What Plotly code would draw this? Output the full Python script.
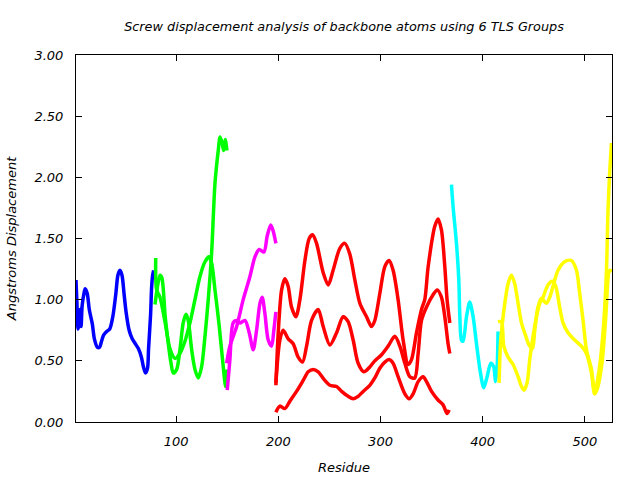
import plotly.graph_objects as go

# ---- data (residue, screw displacement in Angstroms) ----
blue_x = [2, 3, 4, 5, 6, 7, 8, 10, 11, 13, 15, 18, 20, 23, 25, 27, 29, 32, 35, 38, 41, 43, 45, 47, 49, 51, 54, 57, 60, 63, 66, 68, 70, 72, 73, 75, 76, 77, 78]
blue_y = [1.16, 0.95, 0.76, 0.80, 0.92, 0.78, 0.95, 1.06, 1.09, 1.05, 0.92, 0.80, 0.68, 0.61, 0.61, 0.66, 0.71, 0.74, 0.76, 0.86, 1.05, 1.20, 1.24, 1.20, 1.05, 0.90, 0.75, 0.68, 0.64, 0.60, 0.53, 0.45, 0.40, 0.44, 0.60, 0.88, 1.10, 1.20, 1.24]

green1_x = [79.3, 82, 84.2, 86, 89.3, 92.3, 95, 97.2, 100.5, 103.7, 106.9, 109.6, 111.8, 115.2, 118.4, 121.6, 124.9, 128.2, 131.4, 134.7, 138.0, 141.2, 143, 145, 146.5, 148, 149.7]
green1_y = [0.96, 1.12, 1.20, 1.18, 0.86, 0.64, 0.48, 0.40, 0.43, 0.59, 0.81, 0.88, 0.83, 0.59, 0.43, 0.36, 0.45, 0.70, 1.00, 1.38, 1.95, 2.22, 2.33, 2.28, 2.22, 2.31, 2.22]
green2_x = [80.0, 80.9, 84.2, 89.3, 93.9, 98.8, 103.7, 108.6, 113.5, 118.4, 123.3, 128.2, 132.1, 134.7, 138.0, 142.2, 146.1, 148.4, 149.4]
green2_y = [1.34, 1.08, 1.02, 0.81, 0.60, 0.52, 0.56, 0.66, 0.81, 1.00, 1.19, 1.31, 1.35, 1.30, 1.08, 0.78, 0.45, 0.29, 0.43]

magenta1_x = [150.0, 152.6, 155.8, 159.2, 162.4, 167.3, 171.5, 175.4, 178.7, 182.0, 184.2, 186.8, 190.1, 193.4, 195.6, 197.6]
magenta1_y = [0.26, 0.51, 0.81, 0.83, 0.81, 0.83, 0.73, 0.59, 0.75, 0.97, 1.02, 0.89, 0.67, 0.62, 0.75, 0.90]
magenta2_x = [149.4, 152.6, 159.2, 165.6, 172.2, 177.1, 181.3, 185.9, 189.1, 192.5, 195.0, 197.6]
magenta2_y = [0.48, 0.62, 0.78, 1.00, 1.19, 1.35, 1.41, 1.39, 1.52, 1.61, 1.56, 1.46]

red1_x = [197.6, 199.9, 203.2, 206.4, 209.6, 212.9, 217.2, 221.1, 226.0, 230.2, 233.5, 237.4, 243.9, 248.8, 253.6, 260.2, 265.1, 270.0, 274.9, 279.8, 286.3, 291.2, 294.4, 299.3, 304.2, 308.4, 312.3, 317.2, 322.1, 327.0, 330.3, 335.2, 340.1, 343.3, 346.6, 353.1, 356.3, 359.6, 362.9, 365.1, 367.8]
red1_y = [0.30, 0.73, 1.08, 1.17, 1.11, 0.94, 0.86, 1.00, 1.32, 1.50, 1.53, 1.46, 1.22, 1.12, 1.24, 1.42, 1.46, 1.37, 1.16, 0.97, 0.86, 0.78, 0.83, 1.05, 1.27, 1.32, 1.24, 1.00, 0.67, 0.47, 0.51, 0.73, 0.92, 1.00, 1.27, 1.60, 1.66, 1.57, 1.27, 1.00, 0.81]
red2_x = [197.6, 201.5, 204.7, 209.6, 214.5, 219.4, 223.7, 227.6, 232.5, 239.0, 243.9, 250.4, 257.0, 263.4, 268.3, 273.2, 278.1, 283.7, 289.5, 294.4, 301.0, 307.4, 314.0, 318.9, 323.8, 328.7, 333.5, 336.8, 340.1, 345.0, 351.4, 355.4, 359.6, 362.9, 366.1, 367.8]
red2_y = [0.32, 0.67, 0.75, 0.68, 0.64, 0.53, 0.49, 0.62, 0.83, 0.92, 0.78, 0.63, 0.73, 0.86, 0.82, 0.67, 0.48, 0.41, 0.45, 0.50, 0.55, 0.62, 0.70, 0.62, 0.48, 0.37, 0.36, 0.56, 0.83, 0.94, 1.04, 1.08, 1.02, 0.86, 0.64, 0.56]
red3_x = [197.6, 201.5, 206.4, 211.3, 217.8, 224.3, 229.2, 234.1, 239.0, 245.5, 250.4, 257.0, 261.9, 268.3, 273.2, 278.1, 283.0, 289.5, 294.4, 299.3, 304.2, 308.4, 312.3, 317.2, 323.8, 328.0, 331.9, 336.8, 341.7, 345.0, 349.9, 356.3, 361.2, 365.1, 367.1]
red3_y = [0.08, 0.13, 0.11, 0.17, 0.25, 0.34, 0.41, 0.43, 0.41, 0.34, 0.30, 0.29, 0.25, 0.21, 0.19, 0.21, 0.25, 0.30, 0.36, 0.44, 0.49, 0.51, 0.48, 0.37, 0.23, 0.19, 0.23, 0.33, 0.37, 0.33, 0.25, 0.18, 0.14, 0.07, 0.10]

cyan_x = [369.4, 371.0, 374.3, 376.6, 377.6, 379.2, 380.8, 384.1, 387.3, 390.6, 393.9, 397.8, 401.0, 404.3, 407.9, 410.8, 412.5, 414.0, 415.0]
cyan_y = [1.94, 1.76, 1.46, 1.16, 0.86, 0.67, 0.66, 0.86, 0.98, 0.86, 0.64, 0.40, 0.28, 0.37, 0.48, 0.45, 0.33, 0.43, 0.74]

yellow1_x = [416.0, 417.4, 419.3, 421.6, 424.8, 428.1, 431.3, 434.6, 437.9, 441.8, 445.3, 448.7, 450.9, 454.1, 457.4, 462.3, 465.6, 468.8, 473.7, 480.2, 486.8, 491.7, 494.9, 498.2, 501.5, 506.4, 509.6, 511.9, 515.2, 518.4, 521.1, 522.6, 524.3, 525.9]
yellow1_y = [0.32, 0.64, 0.81, 0.97, 1.13, 1.20, 1.13, 0.97, 0.81, 0.71, 0.63, 0.60, 0.75, 0.94, 1.01, 0.97, 1.02, 1.11, 1.24, 1.31, 1.32, 1.24, 1.05, 0.83, 0.59, 0.43, 0.23, 0.32, 0.51, 0.81, 1.24, 1.73, 2.05, 2.28]
yellow2_x = [415.0, 418.3, 420.6, 424.8, 429.7, 434.6, 437.9, 440.4, 443.4, 446.0, 449.2, 452.6, 455.8, 459.0, 463.9, 468.2, 471.4, 475.3, 478.6, 483.5, 490.0, 496.6, 501.5, 506.4, 509.6, 512.8, 517.1, 520.4, 524.3, 526.5]
yellow2_y = [0.82, 0.82, 0.62, 0.53, 0.47, 0.37, 0.29, 0.26, 0.32, 0.51, 0.70, 0.86, 0.97, 1.02, 1.12, 1.15, 1.11, 0.94, 0.81, 0.73, 0.67, 0.62, 0.56, 0.40, 0.23, 0.29, 0.51, 0.86, 1.24, 1.23]

series = [
    (blue_x, blue_y, "#0000ff"),
    (green1_x, green1_y, "#00ff00"),
    (green2_x, green2_y, "#00ff00"),
    (magenta1_x, magenta1_y, "#ff00ff"),
    (magenta2_x, magenta2_y, "#ff00ff"),
    (red1_x, red1_y, "#ff0000"),
    (red2_x, red2_y, "#ff0000"),
    (red3_x, red3_y, "#ff0000"),
    (cyan_x, cyan_y, "#00ffff"),
    (yellow1_x, yellow1_y, "#ffff00"),
    (yellow2_x, yellow2_y, "#ffff00"),
]

x_ticks = [100, 200, 300, 400, 500]
y_ticks = [0.0, 0.5, 1.0, 1.5, 2.0, 2.5, 3.0]
y_tick_labels = ["0.00", "0.50", "1.00", "1.50", "2.00", "2.50", "3.00"]

fig = go.Figure()
for xs, ys, col in series:
    fig.add_trace(go.Scatter(x=xs, y=ys, mode="lines",
                             line=dict(color=col, width=3.5, shape="spline", smoothing=0.8),
                             showlegend=False, hoverinfo="skip"))

font_family = "DejaVu Sans"
text_font = dict(family=font_family, size=13, color="black", style="italic")

fig.update_layout(
    width=640, height=480,
    margin=dict(l=76, r=28, t=55, b=58, autoexpand=False),
    paper_bgcolor="white", plot_bgcolor="white",
    title=dict(text="Screw displacement analysis of backbone atoms using 6 TLS Groups",
               font=dict(family=font_family, size=12.8, color="black", style="italic"),
               x=0.5, xref="paper", xanchor="center",
               y=1 - 27 / 480, yref="container", yanchor="middle"),
    showlegend=False,
)
fig.update_xaxes(
    range=[2, 526.5], tickvals=x_ticks, ticktext=[str(v) for v in x_ticks],
    ticks="inside", ticklen=6, tickwidth=1, tickcolor="black",
    showline=True, linecolor="black", linewidth=1, mirror="ticks",
    showgrid=False, zeroline=False, tickfont=text_font, ticklabelstandoff=7,
    automargin=False,
    title=dict(text="Residue", font=text_font, standoff=15),
)
fig.update_yaxes(
    range=[0, 3], tickvals=y_ticks, ticktext=y_tick_labels,
    ticks="inside", ticklen=6, tickwidth=1, tickcolor="black",
    showline=True, linecolor="black", linewidth=1, mirror="ticks",
    showgrid=False, zeroline=False, tickfont=text_font, ticklabelstandoff=9,
    automargin=False,
    title=dict(text="Angstroms Displacement", font=text_font, standoff=14),
)

fig.write_html("out.html")
